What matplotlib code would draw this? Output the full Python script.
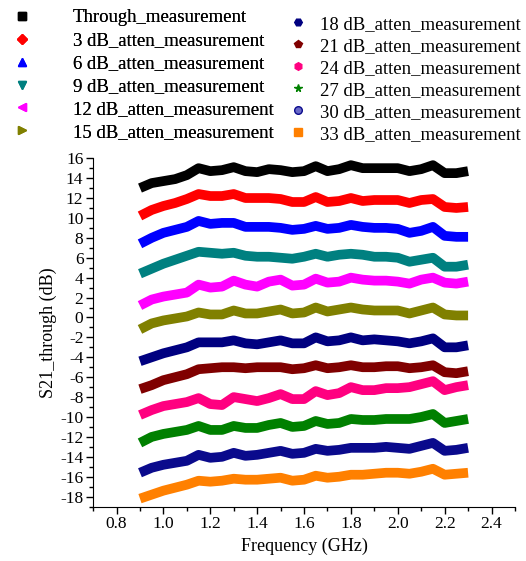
import matplotlib
matplotlib.use("Agg")
import matplotlib.pyplot as plt
from matplotlib.lines import Line2D
from matplotlib.ticker import MultipleLocator

plt.rcParams["font.family"] = ["Liberation Serif", "DejaVu Serif"]
plt.rcParams["axes.unicode_minus"] = False

# 频率点 (GHz)
freq = [0.90, 0.95, 1.00, 1.05, 1.10, 1.15, 1.20, 1.25, 1.30, 1.35,
        1.40, 1.45, 1.50, 1.55, 1.60, 1.65, 1.70, 1.75, 1.80, 1.85,
        1.90, 1.95, 2.00, 2.05, 2.10, 2.15, 2.20, 2.25, 2.30]

through = [13.0, 13.5, 13.7, 13.9, 14.3, 15.0, 14.7, 14.8, 15.1, 14.7,
           14.6, 14.9, 14.8, 14.6, 14.7, 15.2, 14.7, 14.9, 15.3, 15.0,
           15.0, 15.0, 15.0, 14.7, 14.9, 15.3, 14.5, 14.5, 14.7]
att3 = [10.2, 10.8, 11.2, 11.5, 11.9, 12.4, 12.2, 12.2, 12.4, 12.0,
        12.0, 12.0, 11.9, 11.6, 11.6, 12.1, 11.6, 11.7, 12.0, 11.7,
        11.8, 11.8, 11.8, 11.5, 11.8, 11.9, 11.1, 11.0, 11.1]
att6 = [7.4, 8.0, 8.5, 8.8, 9.1, 9.7, 9.4, 9.5, 9.5, 9.1,
        9.1, 9.1, 9.0, 8.8, 8.9, 9.2, 8.9, 9.0, 9.3, 9.1,
        9.0, 9.0, 8.9, 8.5, 8.7, 9.1, 8.2, 8.1, 8.1]
att9 = [4.4, 4.9, 5.4, 5.8, 6.2, 6.6, 6.5, 6.4, 6.5, 6.2,
        6.1, 6.1, 6.0, 5.9, 6.1, 6.4, 6.1, 6.3, 6.4, 6.3,
        6.1, 6.1, 6.0, 5.6, 5.8, 6.0, 5.1, 5.1, 5.3]
att12 = [1.2, 1.8, 2.1, 2.3, 2.5, 3.3, 3.0, 3.1, 3.7, 3.3,
         3.1, 3.6, 3.8, 3.2, 3.3, 3.9, 3.5, 3.6, 4.0, 3.8,
         3.7, 3.7, 3.6, 3.4, 3.8, 4.0, 3.5, 3.4, 3.6]
att15 = [-1.2, -0.6, -0.3, -0.1, 0.1, 0.5, 0.3, 0.3, 0.7, 0.4,
         0.4, 0.6, 0.8, 0.4, 0.5, 1.0, 0.6, 0.8, 1.0, 0.8,
         0.7, 0.7, 0.7, 0.4, 0.7, 1.0, 0.3, 0.2, 0.2]
att18 = [-4.4, -4.0, -3.6, -3.3, -3.0, -2.5, -2.5, -2.5, -2.3, -2.6,
         -2.7, -2.5, -2.3, -2.6, -2.6, -2.0, -2.4, -2.3, -2.0, -2.3,
         -2.2, -2.3, -2.4, -2.6, -2.4, -2.1, -3.0, -3.0, -2.8]
att21 = [-7.2, -6.8, -6.3, -6.0, -5.7, -5.2, -5.1, -5.0, -5.0, -5.1,
         -5.0, -5.0, -5.0, -5.2, -5.1, -4.8, -5.1, -5.0, -4.8, -5.0,
         -5.0, -4.9, -4.9, -5.1, -5.0, -4.8, -5.5, -5.6, -5.4]
att24 = [-9.8, -9.3, -8.9, -8.7, -8.5, -8.1, -8.7, -8.8, -8.0, -8.2,
         -8.4, -8.1, -7.7, -8.2, -8.2, -7.4, -7.8, -7.6, -7.0, -7.3,
         -7.3, -7.1, -7.1, -7.0, -6.7, -6.4, -7.3, -7.0, -6.8]
att27 = [-12.6, -12.0, -11.7, -11.5, -11.3, -10.9, -11.3, -11.3, -10.9, -11.1,
         -11.1, -10.8, -10.6, -11.0, -10.9, -10.4, -10.7, -10.6, -10.2, -10.3,
         -10.3, -10.2, -10.2, -10.2, -10.0, -9.7, -10.6, -10.4, -10.2]
att30 = [-15.6, -15.1, -14.8, -14.6, -14.4, -13.8, -14.1, -14.0, -13.6, -13.9,
         -13.8, -13.6, -13.4, -13.7, -13.6, -13.2, -13.4, -13.3, -13.1, -13.1,
         -13.1, -13.0, -13.1, -13.2, -12.9, -12.6, -13.4, -13.3, -13.1]
att33 = [-18.2, -17.8, -17.4, -17.1, -16.8, -16.4, -16.5, -16.4, -16.2, -16.3,
         -16.3, -16.2, -16.1, -16.4, -16.3, -15.9, -16.1, -16.0, -15.8, -15.8,
         -15.7, -15.6, -15.6, -15.7, -15.5, -15.2, -15.8, -15.7, -15.6]

labels = ["Through_measurement", "3 dB_atten_measurement", "6 dB_atten_measurement",
          "9 dB_atten_measurement", "12 dB_atten_measurement", "15 dB_atten_measurement",
          "18 dB_atten_measurement", "21 dB_atten_measurement", "24 dB_atten_measurement",
          "27 dB_atten_measurement", "30 dB_atten_measurement", "33 dB_atten_measurement"]
series = [through, att3, att6, att9, att12, att15, att18, att21, att24, att27, att30, att33]
colors = ["#000000", "#FF0000", "#0000FF", "#008080", "#FF00FF", "#808000",
          "#000080", "#800000", "#FF0080", "#008000", "#0A0A8C", "#FF8000"]
faces = ["#000000", "#FF0000", "#0000FF", "#008080", "#FF00FF", "#808000",
         "#000080", "#800000", "#FF0080", "#008000", "#6A6AC8", "#FF8000"]
markers = ["s", "D", "^", "v", "<", ">", "H", "p", "h", "*", "o", "s"]

fig = plt.figure(figsize=(5.26, 5.61), dpi=100)
ax = fig.add_axes([0.177, 0.097, 0.802, 0.621])

for vals, c in zip(series, colors):
    ax.plot(freq, vals, color=c, lw=7,
            solid_joinstyle="round", solid_capstyle="butt")

ax.set_xlim(0.7, 2.5)
ax.set_ylim(-19, 16)
ax.xaxis.set_minor_locator(MultipleLocator(0.1))
ax.yaxis.set_major_locator(MultipleLocator(2))
ax.yaxis.set_minor_locator(MultipleLocator(1))
ax.set_xticks([0.8, 1.0, 1.2, 1.4, 1.6, 1.8, 2.0, 2.2, 2.4])
ax.set_xticklabels(["0.8", "1.0", "1.2", "1.4", "1.6", "1.8", "2.0", "2.2", "2.4"])
ax.spines["top"].set_visible(False)
ax.spines["right"].set_visible(False)
ax.tick_params(which="major", direction="out", length=5, width=1, labelsize=12.5, pad=2)
ax.tick_params(which="minor", direction="out", length=3, width=1)
ax.set_xlabel("Frequency (GHz)", fontsize=13, labelpad=4)
ax.set_ylabel("S21_through (dB)", fontsize=13, labelpad=2)

# 图例分两列
handles = [Line2D([], [], ls="none", marker=m, color=c, mfc=fc, mec=c, ms=5.5)
           for c, fc, m in zip(colors, faces, markers)]
leg1 = fig.legend(handles[:6], labels[:6], loc="upper left", bbox_to_anchor=(0.0066, 0.997),
                  frameon=False, fontsize=13.5, handlelength=1.2, handletextpad=2.1,
                  labelspacing=0.31, borderaxespad=0)
fig.legend(handles[6:], labels[6:], loc="upper left", bbox_to_anchor=(0.534, 0.9857),
           frameon=False, fontsize=13.5, handlelength=1.0, handletextpad=0.68,
           labelspacing=0.26, borderaxespad=0)
fig.add_artist(leg1)

fig.savefig("out.png", dpi=100)
